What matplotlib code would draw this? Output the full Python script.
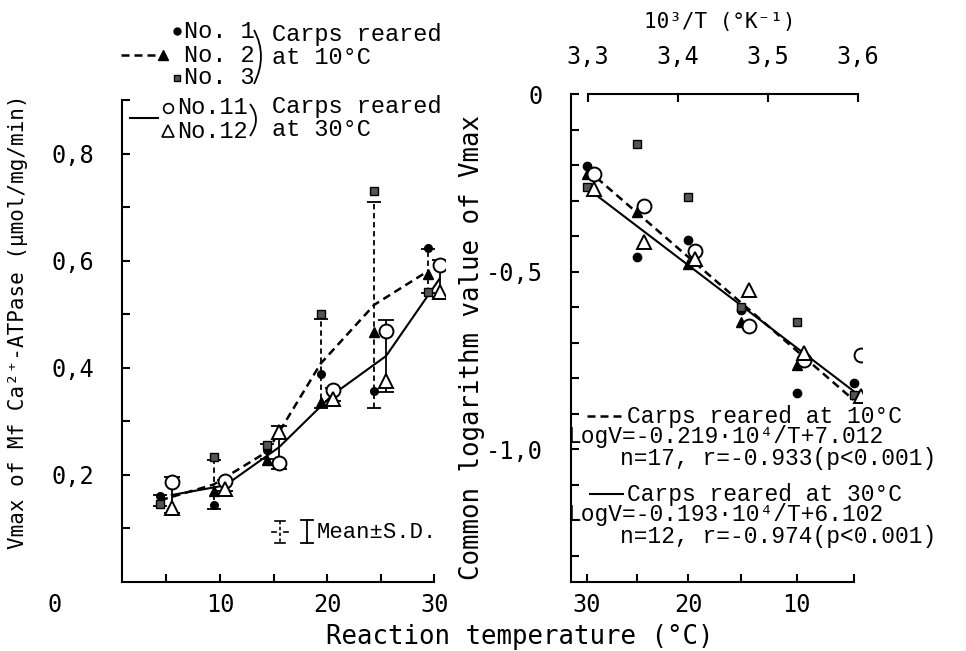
import numpy as np
import matplotlib
matplotlib.use("Agg")
import matplotlib.pyplot as plt
from matplotlib.path import Path
from matplotlib.patches import PathPatch

# ---------------- data ----------------
temps = np.array([5, 10, 15, 20, 25, 30])          # reaction temperature (deg C)

# Vmax (umol/mg/min), carps reared at 10 C
no1 = np.array([0.160, 0.143, 0.247, 0.388, 0.356, 0.623])
no2 = np.array([np.nan, 0.170, 0.228, 0.336, 0.467, 0.576])
no3 = np.array([0.145, 0.233, 0.255, 0.500, 0.730, 0.542])
# carps reared at 30 C
no11 = np.array([0.186, 0.188, 0.223, 0.358, 0.469, 0.591])
no12 = np.array([0.139, 0.173, 0.280, 0.341, 0.375, 0.542])

# common logarithm of Vmax (right panel)
log1 = np.array([-0.815, -0.842, -0.607, -0.410, -0.458, -0.202])
log2 = np.array([np.nan, -0.764, -0.642, -0.478, -0.333, -0.226])
log3 = np.array([-0.848, -0.642, -0.600, -0.291, -0.140, -0.263])
log11 = np.array([-0.736, -0.750, -0.652, -0.441, -0.315, -0.226])
log12 = np.array([-0.850, -0.729, -0.553, -0.465, -0.418, -0.268])

# regression: LogV = a*10^4/T + b
reg10 = (-0.219, 7.012)
reg30 = (-0.193, 6.102)

left_xticks = [5, 10, 15, 20, 25, 30]
left_xlabels = ["", "10", "", "20", "", "30"]
right_temp_ticks = np.array([30, 25, 20, 15, 10, 5])
right_temp_labels = ["30", "", "20", "", "10", ""]
top_ticks = [3.3, 3.4, 3.5, 3.6]
top_labels = ["3,3", "3,4", "3,5", "3,6"]

MONO = ["Liberation Mono", "DejaVu Sans Mono"]
SMONO = ["DejaVu Sans Mono", "DejaVu Sans"]

W, H = 966, 651
fig = plt.figure(figsize=(W / 100, H / 100), dpi=100)


def frac(x0, y0, x1, y1):
    return [x0 / W, 1 - y1 / H, (x1 - x0) / W, (y1 - y0) / H]


DASH = (0, (3.2, 2.0))

# ---------------- left panel ----------------
axL = fig.add_axes(frac(122, 100, 445, 582))
axL.set_xlim(0.85, 31.0)
axL.set_ylim(0, 0.9)

g10 = np.vstack([no1, no2, no3])
g30 = np.vstack([no11, no12])
m10 = np.nanmean(g10, axis=0)
s10 = np.nanstd(g10, axis=0, ddof=1)
m30 = np.nanmean(g30, axis=0)
s30 = np.nanstd(g30, axis=0, ddof=1)
xd = temps - 0.6
xs = temps + 0.5

axL.plot(xd, m10, color="k", lw=1.8, ls=DASH, zorder=2)
axL.plot(xs, m30, color="k", lw=1.5, ls="-", zorder=2)
eb = axL.errorbar(xd, m10, yerr=s10, fmt="none", ecolor="k", elinewidth=1.3,
                  capsize=5, capthick=1.3, zorder=2)
eb[2][0].set_linestyle((0, (3, 2)))
axL.errorbar(xs, m30, yerr=s30, fmt="none", ecolor="k", elinewidth=1.3,
             capsize=6, capthick=1.3, zorder=2)

axL.plot(xd, no1, "o", ms=5.5, color="k", zorder=4)
axL.plot(xd, no2, "^", ms=6.5, color="k", zorder=4)
axL.plot(xd, no3, "s", ms=5.5, mfc="#555555", mec="k", mew=1.0, zorder=4)
axL.plot(xs, no11, "o", ms=10, mfc="white", mec="k", mew=1.4, zorder=5)
axL.plot(xs, no12, "^", ms=10, mfc="white", mec="k", mew=1.4, zorder=5)

for s in ["top", "right"]:
    axL.spines[s].set_visible(False)
axL.spines["left"].set_linewidth(1.5)
axL.spines["bottom"].set_linewidth(1.5)
axL.spines["bottom"].set_bounds(0.85, 30)
axL.set_xticks(left_xticks)
axL.set_xticklabels(left_xlabels)
yt = np.round(np.arange(0.1, 0.91, 0.1), 1)
axL.set_yticks(yt)
axL.set_yticklabels(["", "0,2", "", "0,4", "", "0,6", "", "0,8", ""])
axL.tick_params(axis="y", direction="in", length=6, width=1.5, pad=20, labelsize=17)
axL.tick_params(axis="x", direction="in", length=6, width=1.5, pad=8, labelsize=17)
for lab in axL.get_xticklabels() + axL.get_yticklabels():
    lab.set_family(SMONO)

# ---------------- right panel ----------------
axR = fig.add_axes(frac(571, 94, 862, 582))
xR0 = 3.3 - 17 / 900
xR1 = 3.3 + 274 / 900
axR.set_xlim(xR0, xR1)
axR.set_ylim(-1.374, 0)

invT = 1000.0 / (temps + 273.15)
off = 0.008
axR.plot(invT, log1, "o", ms=6, color="k", zorder=4)
axR.plot(invT, log2, "^", ms=7, color="k", zorder=4)
axR.plot(invT, log3, "s", ms=5.5, mfc="#555555", mec="k", mew=1.0, zorder=4)
axR.plot(invT + off, log11, "o", ms=10, mfc="white", mec="k", mew=1.4, zorder=5)
axR.plot(invT + off, log12, "^", ms=10, mfc="white", mec="k", mew=1.4, zorder=5)

xx = np.array([invT.min(), invT.max()])
axR.plot(xx, reg10[0] * 10 * xx + reg10[1], color="k", lw=1.8, ls=DASH, zorder=3)
axR.plot(xx, reg30[0] * 10 * xx + reg30[1], color="k", lw=1.5, ls="-", zorder=3)

axR.spines["right"].set_visible(False)
axR.spines["top"].set_visible(False)
axR.spines["left"].set_linewidth(1.5)
axR.spines["bottom"].set_linewidth(1.5)
axR.spines["bottom"].set_bounds(xR0, 1000.0 / (5 + 273.15))
axR.set_xticks(1000.0 / (right_temp_ticks + 273.15))
axR.set_xticklabels(right_temp_labels)
ryt = np.round(np.arange(0, -1.35, -0.1), 1)
axR.set_yticks(ryt)
axR.set_yticklabels(["0" if v == 0 else ("-0,5" if v == -0.5 else ("-1,0" if v == -1.0 else "")) for v in ryt])
axR.tick_params(axis="y", direction="in", length=6, width=1.5, pad=20, labelsize=17)
axR.tick_params(axis="x", direction="in", length=6, width=1.5, pad=8, labelsize=17)
for lab in axR.get_xticklabels() + axR.get_yticklabels():
    lab.set_family(SMONO)

sec = axR.secondary_xaxis("top")
sec.set_xticks(top_ticks)
sec.set_xticklabels(top_labels)
sec.spines["top"].set_bounds(3.3, 3.6)
sec.spines["top"].set_linewidth(1.5)
sec.tick_params(direction="in", length=6, width=1.5, pad=18, labelsize=17)
for lab in sec.get_xticklabels():
    lab.set_family(SMONO)

# ---------------- overlay (labels & legends) in pixel coords ----------------
ov = fig.add_axes([0, 0, 1, 1])
ov.set_xlim(0, W)
ov.set_ylim(H, 0)
ov.axis("off")

ov.text(18, 322, "Vmax of Mf Ca²⁺-ATPase (μmol/mg/min)", rotation=90,
        ha="center", va="center", fontsize=15, family=SMONO)
ov.text(472, 348, "Common logarithm value of Vmax", rotation=90,
        ha="center", va="center", fontsize=18.5, family=SMONO)
ov.text(520, 637, "Reaction temperature (°C)", ha="center", va="center",
        fontsize=18.5, family=SMONO)
ov.text(720, 22, "10³/T (°K⁻¹)", ha="center", va="center", fontsize=15, family=SMONO)
ov.text(55, 605, "0", ha="center", va="center", fontsize=17, family=SMONO)

# left legend
fs = 17
ov.plot([177], [31], "o", ms=5, color="k")
ov.text(184, 31, "No. 1", va="center", fontsize=fs, family=MONO)
ov.plot([121, 156], [55, 55], color="k", lw=1.8, ls=DASH)
ov.plot([163], [55], "^", ms=6.5, color="k")
ov.text(184, 55, "No. 2", va="center", fontsize=fs, family=MONO)
ov.plot([177], [78], "s", ms=5, mfc="#555555", mec="k")
ov.text(184, 78, "No. 3", va="center", fontsize=fs, family=MONO)
ov.add_patch(PathPatch(Path([(254, 30), (268, 56), (254, 84)],
                            [Path.MOVETO, Path.CURVE3, Path.CURVE3]),
                       fc="none", ec="k", lw=1.3))
ov.text(272, 35, "Carps reared", va="center", fontsize=fs, family=MONO)
ov.text(272, 58, "at 10°C", va="center", fontsize=fs, family=MONO)

ov.plot([130, 158], [118, 118], color="k", lw=1.5)
ov.plot([168], [108], "o", ms=7, mfc="white", mec="k", mew=1.2)
ov.text(177, 108, "No.11", va="center", fontsize=fs, family=MONO)
ov.plot([168], [131], "^", ms=9, mfc="white", mec="k", mew=1.2)
ov.text(177, 131, "No.12", va="center", fontsize=fs, family=MONO)
ov.add_patch(PathPatch(Path([(250, 104), (262, 119), (250, 136)],
                            [Path.MOVETO, Path.CURVE3, Path.CURVE3]),
                       fc="none", ec="k", lw=1.3))
ov.text(272, 106, "Carps reared", va="center", fontsize=fs, family=MONO)
ov.text(272, 130, "at 30°C", va="center", fontsize=fs, family=MONO)

# Mean +- S.D. key
ov.plot([280, 280], [521, 543], color="k", lw=1.2, ls=(0, (2, 1.5)))
ov.plot([275, 285], [521, 521], color="k", lw=1.2)
ov.plot([275, 285], [543, 543], color="k", lw=1.2)
ov.plot([272, 276], [532, 532], color="k", lw=1.2)
ov.plot([284, 288], [532, 532], color="k", lw=1.2)
ov.plot([307, 307], [520, 543], color="k", lw=1.3)
ov.plot([301, 313], [520, 520], color="k", lw=1.3)
ov.plot([301, 313], [543, 543], color="k", lw=1.3)
ov.text(317, 532, "Mean±S.D.", va="center", fontsize=16, family=MONO)

# right legend
fr = 16.5
ov.plot([587, 623], [416, 416], color="k", lw=1.8, ls=DASH)
ov.text(627, 416, "Carps reared at 10°C", va="center", fontsize=fr, family=MONO)
ov.text(567, 437, "LogV=-0.219·10⁴/T+7.012", va="center", fontsize=fr, family=MONO)
ov.text(620, 459, "n=17, r=-0.933(p<0.001)", va="center", fontsize=fr, family=MONO)
ov.plot([590, 623], [494, 494], color="k", lw=1.5)
ov.text(627, 494, "Carps reared at 30°C", va="center", fontsize=fr, family=MONO)
ov.text(567, 515, "LogV=-0.193·10⁴/T+6.102", va="center", fontsize=fr, family=MONO)
ov.text(620, 537, "n=12, r=-0.974(p<0.001)", va="center", fontsize=fr, family=MONO)

fig.savefig("out.png", dpi=100)
